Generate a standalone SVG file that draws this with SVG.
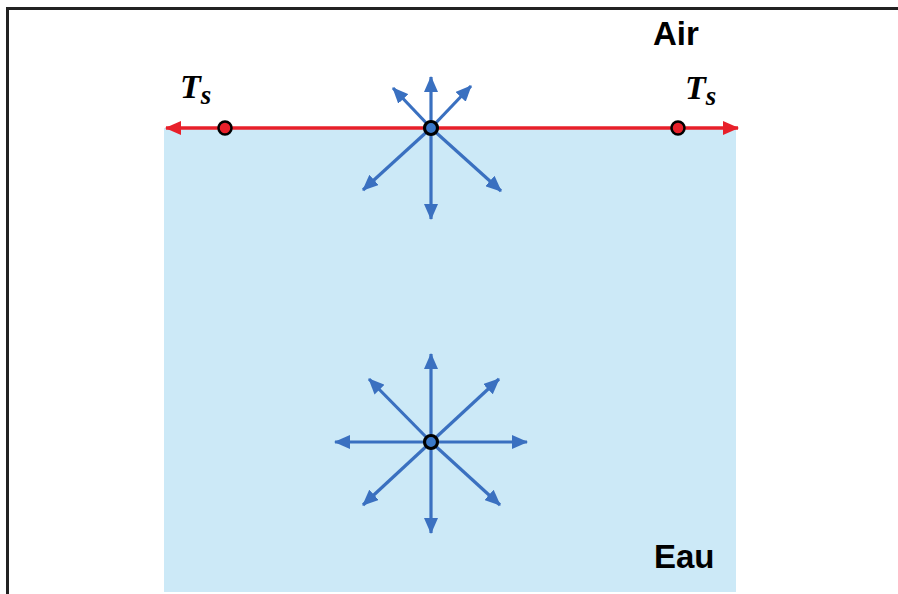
<svg xmlns="http://www.w3.org/2000/svg" width="898" height="594" viewBox="0 0 898 594">
<defs>
<style>
.frame{fill:none;stroke:#222;stroke-width:3}
.water{fill:#cce9f7}
.blue{stroke:#3a70c0;stroke-width:3.2;fill:none;marker-end:url(#ab)}
.red{stroke:#e8202a;stroke-width:3.5;fill:none}
.lbl{font-family:"Liberation Sans",Arial,sans-serif;font-weight:bold;font-size:33px;fill:#000}
.ts{font-family:"Liberation Serif","Times New Roman",serif;font-weight:bold;font-style:italic;fill:#000}
.rdot{fill:#e8202a;stroke:#000;stroke-width:2.5}
.bdot{fill:#3a78c8;stroke:#000;stroke-width:3.2}
</style>
<marker id="ab" viewBox="0 0 16 14" refX="15" refY="7" markerWidth="16" markerHeight="14" markerUnits="userSpaceOnUse" orient="auto">
<path d="M0,0 L16,7 L0,14 Z" fill="#3a70c0"/>
</marker>
<marker id="ar" viewBox="0 0 16 14" refX="15" refY="7" markerWidth="16" markerHeight="14" markerUnits="userSpaceOnUse" orient="auto">
<path d="M0,0 L16,7 L0,14 Z" fill="#e8202a"/>
</marker>
</defs>
<rect class="frame" x="7.5" y="8.5" width="1000" height="700"/>
<rect id="eau" class="water" x="164" y="128" width="572" height="464"/>
<g id="connectors">
<g id="surface-arrows">
<line class="blue" x1="431" y1="128" x2="431" y2="77"/>
<line class="blue" x1="431" y1="128" x2="393" y2="88"/>
<line class="blue" x1="431" y1="128" x2="471" y2="86"/>
<line class="blue" x1="431" y1="128" x2="363" y2="190"/>
<line class="blue" x1="431" y1="128" x2="501" y2="191"/>
<line class="blue" x1="431" y1="128" x2="431" y2="219"/>
</g>
<g id="bulk-arrows">
<line class="blue" x1="431" y1="442" x2="431" y2="354"/>
<line class="blue" x1="431" y1="442" x2="431" y2="533"/>
<line class="blue" x1="431" y1="442" x2="335" y2="442"/>
<line class="blue" x1="431" y1="442" x2="527" y2="442"/>
<line class="blue" x1="431" y1="442" x2="369" y2="379"/>
<line class="blue" x1="431" y1="442" x2="499" y2="379"/>
<line class="blue" x1="431" y1="442" x2="363" y2="505"/>
<line class="blue" x1="431" y1="442" x2="500" y2="505"/>
</g>
<g id="surface-line">
<line class="red" x1="431" y1="128" x2="166" y2="128" marker-end="url(#ar)"/>
<line class="red" x1="431" y1="128" x2="738" y2="128" marker-end="url(#ar)"/>
</g>
</g>
<g id="node-ts-left">
<circle class="rdot" cx="225" cy="128" r="6.5"/>
<text class="ts" x="180" y="98" font-size="34">T<tspan font-size="27" dy="6">s</tspan></text>
</g>
<g id="node-ts-right">
<circle class="rdot" cx="678" cy="128" r="6.5"/>
<text class="ts" x="685" y="99" font-size="34">T<tspan font-size="27" dy="6">s</tspan></text>
</g>
<g id="node-surface">
<circle class="bdot" cx="431" cy="128" r="6.5"/>
</g>
<g id="node-bulk">
<circle class="bdot" cx="431" cy="442" r="6.5"/>
</g>
<g id="label-air"><text class="lbl" x="653" y="45">Air</text></g>
<g id="label-eau"><text class="lbl" x="654" y="568">Eau</text></g>
</svg>
